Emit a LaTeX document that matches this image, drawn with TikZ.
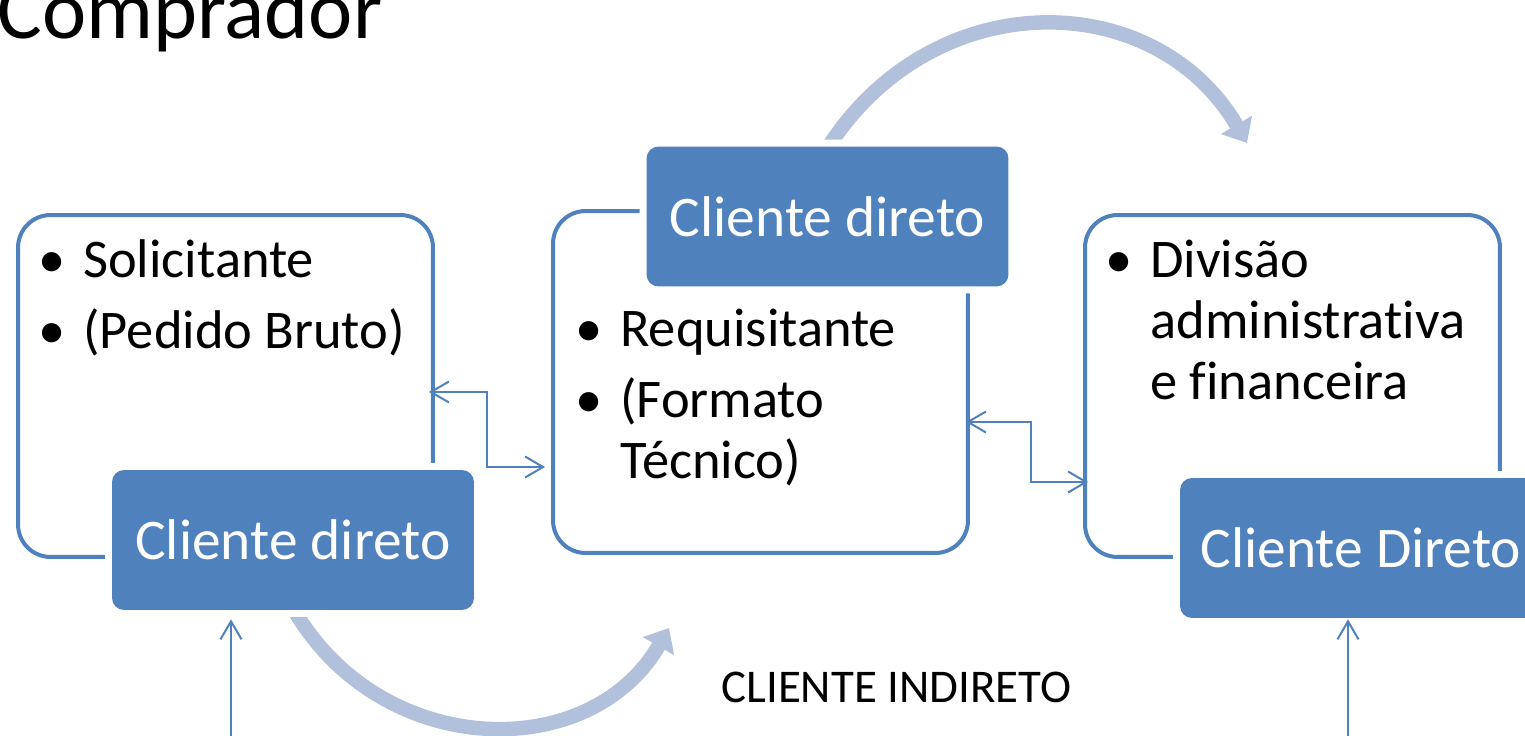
\documentclass[tikz,border=0pt]{standalone}
\usepackage{fontspec}
\setmainfont{Carlito}[Ligatures=NoCommon]
\usetikzlibrary{arrows.meta}
\definecolor{accent}{HTML}{4F81BD}
\definecolor{paleaccent}{HTML}{B2C1DB}
\newcommand{\bul}{\makebox[0.9cm][l]{•}}

\begin{document}
\begin{tikzpicture}[x=0.02cm,y=-0.02cm,
	outline/.style={draw=accent,line width=0.08cm,rounded corners=0.65cm,fill=white,minimum width=8.3cm,minimum height=6.84cm,inner sep=0},
	tag/.style={fill=accent,preaction={draw=white,line width=0.28cm},rounded corners=0.24cm,minimum width=7.24cm,minimum height=2.8cm,text=white,font=\fontsize{32.7}{36}\selectfont,inner sep=0},
	items/.style={anchor=base west,inner sep=0,font=\fontsize{31}{34.7}\selectfont},
	link/.style={draw=accent,line width=0.04cm,{Straight Barb[length=0.36cm,width=0.42cm]}-{Straight Barb[length=0.36cm,width=0.42cm]}},
	uplink/.style={draw=accent,line width=0.04cm,-{Straight Barb[length=0.36cm,width=0.42cm]}},
	flow/.style={draw=paleaccent,line width=0.29cm,-{Triangle[length=0.42cm,width=0.7cm]}}]
	\useasboundingbox (0,0) rectangle (1525,736);
	\clip (0,0) rectangle (1525,736);
	
	%big curved arrows
	\draw[flow] (288,599) .. controls (371,759) and (588,768) .. (669,628);
	\draw[flow] (822,157) .. controls (926,-18) and (1154,-16) .. (1247,143);
	
	%boxes
	\node[outline] (lbox) at (225.5,386) {};
	\node[outline] (mbox) at (760.5,382) {};
	\node[outline] (rbox) at (1292.5,386) {};
	%
	\node[items] (ltext) at (38,278) {\begin{tabular}[t]{@{}l@{}l@{}}\bul&Solicitante\\[5.7pt]\bul&(Pedido Bruto)\end{tabular}};
	\node[items] (mtext) at (575,347) {\begin{tabular}[t]{@{}l@{}l@{}}\bul&Requisitante\\[5.7pt]\bul&(Formato\\&Técnico)\end{tabular}};
	\node[items] (rtext) at (1105,278) {\begin{tabular}[t]{@{}l@{}l@{}}\bul&Divisão\\&administrativa\\&e financeira\end{tabular}};
	%
	\node[tag] (ltag) at (293,540) {Cliente direto};
	\node[tag] (mtag) at (827.5,216.5) {Cliente direto};
	\node[tag] (rtag) at (1361,548) {Cliente Direto};
	
	%thin connectors
	\draw[link,shorten <=-0.12cm,shorten >=0.12cm] (lbox.east |- 0,392) -| (487,430) |- (mbox.west |- 0,467);
	\draw[link,shorten <=-0.08cm,shorten >=-0.1cm] (mbox.east |- 0,422) -| (1031,450) |- (rbox.west |- 0,482);
	\coordinate (lfoot) at (231,745);
	\coordinate (rfoot) at (1348,745);
	\draw[uplink,shorten >=0.18cm] (lfoot) -- (lfoot |- ltag.south);
	\draw[uplink,shorten >=0.02cm] (rfoot) -- (rfoot |- rtag.south);
	
	%labels
	\node[anchor=base west,inner sep=0,font=\fontsize{47.7}{50}\selectfont] (title) at (-3,39) {Comprador};
	\node[anchor=base,inner sep=0,font=\fontsize{26.7}{30}\selectfont] (indirect) at (896.5,702) {CLIENTE INDIRETO};
\end{tikzpicture}
\end{document}
